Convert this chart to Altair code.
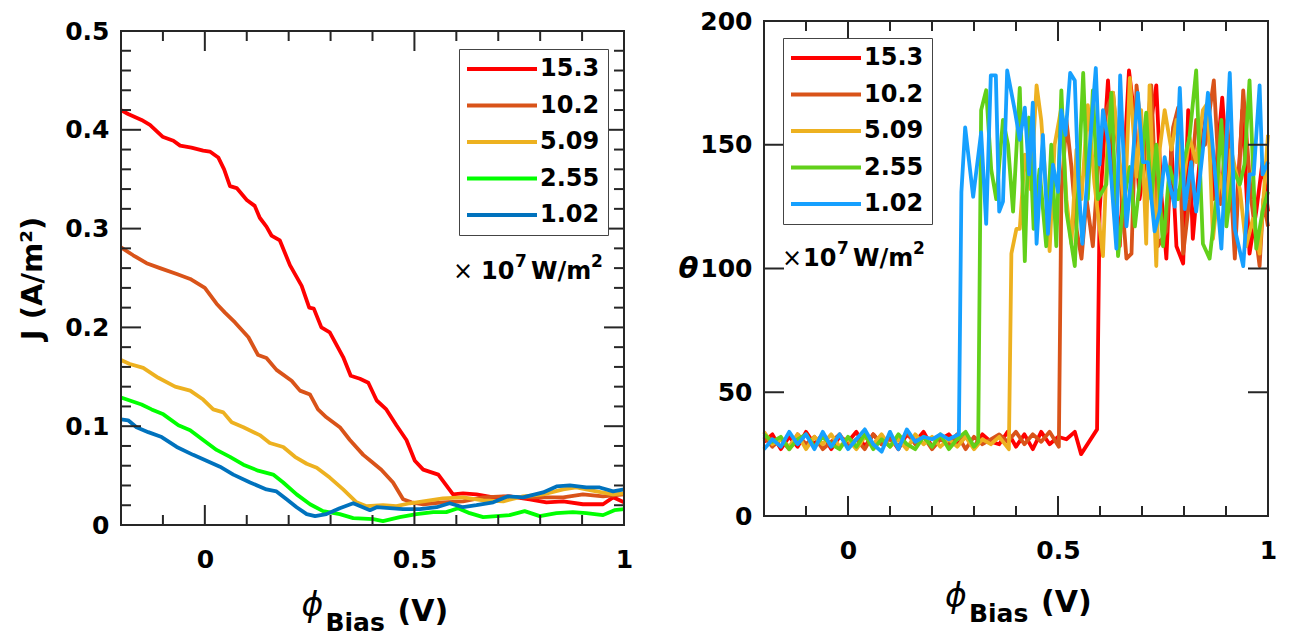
import altair as alt
import pandas as pd

# ---------------- data ----------------
SERIES = ["15.3", "10.2", "5.09", "2.55", "1.02"]
LEFT_COLORS = ["#FF0000", "#D95319", "#EDB120", "#00FF00", "#0072BD"]
RIGHT_COLORS = ["#FF0000", "#D95319", "#EDB120", "#62D01A", "#16A0FF"]

# J (A/m^2) vs phi_bias (V)
J_153 = [(-0.2, 0.420), (-0.183, 0.416), (-0.151, 0.410), (-0.131, 0.405), (-0.101, 0.393),
         (-0.075, 0.389), (-0.059, 0.384), (-0.032, 0.382), (-0.004, 0.379), (0.012, 0.378),
         (0.032, 0.372), (0.046, 0.360), (0.060, 0.343), (0.076, 0.341), (0.100, 0.329),
         (0.119, 0.323), (0.131, 0.311), (0.147, 0.302), (0.159, 0.293), (0.179, 0.288),
         (0.203, 0.263), (0.231, 0.242), (0.249, 0.220), (0.260, 0.219), (0.278, 0.200),
         (0.298, 0.195), (0.330, 0.170), (0.348, 0.151), (0.370, 0.148), (0.390, 0.144),
         (0.410, 0.126), (0.433, 0.117), (0.457, 0.101), (0.481, 0.086), (0.501, 0.065),
         (0.521, 0.056), (0.557, 0.051), (0.592, 0.031), (0.616, 0.032), (0.648, 0.031),
         (0.688, 0.028), (0.727, 0.029), (0.775, 0.026), (0.815, 0.023), (0.855, 0.024),
         (0.902, 0.021), (0.950, 0.021), (0.974, 0.028), (1.0, 0.023)]
J_102 = [(-0.2, 0.281), (-0.171, 0.273), (-0.139, 0.265), (-0.107, 0.260), (-0.067, 0.254),
         (-0.035, 0.249), (0.000, 0.240), (0.028, 0.224), (0.048, 0.215), (0.072, 0.205),
         (0.104, 0.190), (0.127, 0.172), (0.147, 0.169), (0.171, 0.157), (0.207, 0.146),
         (0.227, 0.136), (0.251, 0.132), (0.270, 0.117), (0.290, 0.109), (0.322, 0.099),
         (0.346, 0.086), (0.378, 0.071), (0.398, 0.064), (0.421, 0.056), (0.449, 0.043),
         (0.473, 0.026), (0.493, 0.023), (0.521, 0.021), (0.568, 0.023), (0.616, 0.024),
         (0.664, 0.028), (0.712, 0.029), (0.759, 0.028), (0.807, 0.028), (0.855, 0.028),
         (0.902, 0.031), (0.950, 0.029), (1.0, 0.031)]
J_509 = [(-0.2, 0.167), (-0.179, 0.163), (-0.147, 0.159), (-0.111, 0.149), (-0.071, 0.140),
         (-0.035, 0.136), (-0.004, 0.127), (0.020, 0.117), (0.044, 0.114), (0.064, 0.104),
         (0.092, 0.099), (0.131, 0.091), (0.155, 0.083), (0.187, 0.079), (0.215, 0.069),
         (0.243, 0.062), (0.267, 0.058), (0.298, 0.048), (0.330, 0.036), (0.362, 0.023),
         (0.386, 0.019), (0.425, 0.020), (0.457, 0.019), (0.489, 0.022), (0.521, 0.024),
         (0.568, 0.027), (0.616, 0.028), (0.664, 0.025), (0.712, 0.024), (0.759, 0.029),
         (0.807, 0.031), (0.855, 0.036), (0.886, 0.038), (0.934, 0.034), (0.974, 0.031),
         (1.0, 0.032)]
J_255 = [(-0.2, 0.129), (-0.179, 0.126), (-0.151, 0.122), (-0.127, 0.117), (-0.099, 0.112),
         (-0.063, 0.101), (-0.035, 0.096), (-0.004, 0.086), (0.028, 0.076), (0.060, 0.069),
         (0.092, 0.061), (0.127, 0.055), (0.163, 0.051), (0.187, 0.043), (0.219, 0.031),
         (0.251, 0.021), (0.282, 0.014), (0.322, 0.011), (0.354, 0.007), (0.402, 0.006),
         (0.425, 0.004), (0.465, 0.008), (0.505, 0.011), (0.545, 0.013), (0.576, 0.013),
         (0.604, 0.017), (0.632, 0.012), (0.664, 0.008), (0.696, 0.009), (0.727, 0.010),
         (0.763, 0.014), (0.799, 0.009), (0.839, 0.012), (0.878, 0.013), (0.910, 0.012),
         (0.950, 0.010), (0.977, 0.015), (1.0, 0.016)]
J_102b = [(-0.2, 0.107), (-0.183, 0.106), (-0.163, 0.099), (-0.135, 0.094), (-0.103, 0.089),
          (-0.067, 0.079), (-0.028, 0.071), (0.004, 0.065), (0.036, 0.059), (0.068, 0.051),
          (0.108, 0.043), (0.147, 0.036), (0.171, 0.034), (0.195, 0.026), (0.219, 0.018),
          (0.243, 0.011), (0.263, 0.009), (0.290, 0.011), (0.322, 0.017), (0.354, 0.022),
          (0.394, 0.015), (0.410, 0.018), (0.441, 0.017), (0.473, 0.016), (0.513, 0.016),
          (0.553, 0.018), (0.584, 0.022), (0.616, 0.018), (0.648, 0.020), (0.688, 0.023),
          (0.723, 0.029), (0.759, 0.028), (0.807, 0.033), (0.839, 0.039), (0.871, 0.040),
          (0.910, 0.038), (0.942, 0.038), (0.974, 0.034), (1.0, 0.036)]

# theta vs phi_bias (V)
TH_153 = [(-0.20, 30), (-0.18, 33), (-0.16, 27), (-0.14, 32), (-0.12, 28), (-0.10, 34), (-0.08, 29),
          (-0.06, 33), (-0.04, 27), (-0.02, 32), (0.00, 30), (0.02, 34), (0.04, 28), (0.06, 33),
          (0.08, 29), (0.10, 32), (0.12, 27), (0.14, 33), (0.16, 30), (0.18, 34), (0.20, 28),
          (0.22, 31), (0.24, 33), (0.26, 29), (0.28, 32), (0.30, 28), (0.32, 33), (0.34, 30),
          (0.36, 29), (0.38, 34), (0.40, 28), (0.42, 33), (0.44, 27), (0.46, 34), (0.48, 29),
          (0.50, 32), (0.52, 31), (0.54, 34), (0.555, 25), (0.593, 35),
          (0.599, 123), (0.619, 176), (0.632, 140), (0.647, 109), (0.669, 180), (0.683, 160),
          (0.694, 128), (0.714, 150), (0.734, 174), (0.746, 130), (0.758, 104), (0.770, 150),
          (0.782, 109), (0.798, 102), (0.810, 164), (0.821, 112), (0.838, 145), (0.855, 165),
          (0.870, 128), (0.891, 169), (0.907, 130), (0.923, 117), (0.939, 164), (0.956, 106),
          (0.972, 123), (0.987, 143), (1.0, 123)]
TH_102 = [(-0.20, 32), (-0.18, 28), (-0.16, 31), (-0.14, 27), (-0.12, 33), (-0.10, 29), (-0.08, 32),
          (-0.06, 27), (-0.04, 30), (-0.02, 33), (0.00, 28), (0.02, 31), (0.04, 27), (0.06, 33),
          (0.08, 29), (0.10, 31), (0.12, 28), (0.14, 34), (0.16, 29), (0.18, 32), (0.20, 27),
          (0.22, 31), (0.24, 29), (0.26, 33), (0.28, 27), (0.30, 32), (0.32, 29), (0.34, 31),
          (0.36, 33), (0.38, 30), (0.40, 34), (0.42, 29), (0.44, 33), (0.46, 30), (0.48, 34),
          (0.502, 28),
          (0.508, 130), (0.520, 160), (0.532, 141), (0.544, 116), (0.556, 104), (0.568, 128),
          (0.583, 109), (0.599, 150), (0.615, 164), (0.631, 171), (0.647, 140), (0.663, 104),
          (0.675, 106), (0.687, 174), (0.706, 143), (0.722, 174), (0.738, 109), (0.758, 115),
          (0.774, 157), (0.786, 165), (0.798, 106), (0.813, 128), (0.829, 160), (0.850, 150),
          (0.871, 176), (0.887, 126), (0.903, 160), (0.921, 104), (0.941, 172), (0.960, 128),
          (0.980, 101), (0.989, 128), (1.0, 117)]
TH_509 = [(-0.20, 34), (-0.18, 29), (-0.16, 31), (-0.14, 28), (-0.12, 33), (-0.10, 27), (-0.08, 32),
          (-0.06, 29), (-0.04, 33), (-0.02, 28), (0.00, 31), (0.02, 27), (0.04, 32), (0.06, 29),
          (0.08, 33), (0.10, 28), (0.12, 31), (0.14, 27), (0.16, 33), (0.18, 29), (0.20, 32),
          (0.22, 28), (0.24, 31), (0.26, 28), (0.28, 32), (0.30, 27), (0.32, 31), (0.34, 29),
          (0.36, 32), (0.383, 27),
          (0.389, 106), (0.401, 116), (0.409, 116), (0.421, 146), (0.435, 132), (0.449, 174),
          (0.460, 160), (0.472, 132), (0.480, 107), (0.492, 150), (0.508, 165), (0.520, 128),
          (0.532, 110), (0.544, 148), (0.556, 128), (0.571, 166), (0.587, 134), (0.607, 105),
          (0.619, 157), (0.631, 171), (0.647, 143), (0.659, 123), (0.671, 177), (0.687, 137),
          (0.698, 164), (0.710, 110), (0.718, 174), (0.734, 101), (0.742, 148), (0.754, 164),
          (0.770, 148), (0.782, 160), (0.798, 134), (0.813, 153), (0.829, 143), (0.845, 164),
          (0.857, 167), (0.869, 112), (0.885, 138), (0.901, 123), (0.912, 148), (0.933, 132),
          (0.948, 109), (0.964, 120), (0.980, 106), (1.0, 154)]
TH_255 = [(-0.20, 33), (-0.18, 30), (-0.16, 32), (-0.14, 27), (-0.12, 31), (-0.10, 33), (-0.08, 28),
          (-0.06, 32), (-0.04, 29), (-0.02, 27), (0.00, 32), (0.02, 28), (0.04, 33), (0.06, 27),
          (0.08, 31), (0.10, 28), (0.12, 33), (0.14, 29), (0.16, 27), (0.18, 32), (0.20, 28),
          (0.22, 33), (0.24, 27), (0.26, 31), (0.28, 34), (0.30, 28), (0.310, 30),
          (0.317, 164), (0.329, 172), (0.341, 140), (0.353, 128), (0.369, 160), (0.381, 150),
          (0.393, 123), (0.409, 173), (0.421, 103), (0.431, 161), (0.442, 116), (0.456, 140),
          (0.472, 109), (0.484, 150), (0.496, 109), (0.508, 172), (0.520, 123), (0.540, 101),
          (0.560, 179), (0.571, 128), (0.583, 172), (0.595, 128), (0.615, 134), (0.627, 171),
          (0.643, 105), (0.655, 126), (0.671, 141), (0.683, 117), (0.694, 134), (0.710, 163),
          (0.722, 128), (0.734, 150), (0.750, 109), (0.766, 141), (0.786, 128), (0.798, 142),
          (0.813, 153), (0.829, 180), (0.845, 110), (0.861, 104), (0.877, 128), (0.889, 160),
          (0.901, 117), (0.917, 140), (0.933, 134), (0.944, 142), (0.956, 176), (0.972, 108),
          (0.987, 123), (1.0, 131)]
TH_102b = [(-0.20, 27), (-0.18, 31), (-0.16, 28), (-0.14, 34), (-0.12, 29), (-0.10, 33), (-0.08, 27),
           (-0.06, 34), (-0.04, 28), (-0.02, 33), (0.00, 27), (0.02, 31), (0.04, 35), (0.06, 29),
           (0.08, 26), (0.10, 34), (0.12, 27), (0.14, 35), (0.16, 30), (0.18, 32), (0.20, 31),
           (0.22, 33), (0.24, 31), (0.264, 33),
           (0.270, 131), (0.279, 157), (0.298, 129), (0.317, 155), (0.329, 118), (0.340, 178),
           (0.352, 178), (0.360, 123), (0.369, 127), (0.379, 180), (0.397, 164), (0.409, 152),
           (0.421, 165), (0.431, 138), (0.440, 167), (0.449, 110), (0.464, 154), (0.476, 114),
           (0.488, 142), (0.500, 131), (0.508, 164), (0.518, 154), (0.529, 179), (0.540, 176),
           (0.548, 137), (0.558, 110), (0.571, 139), (0.590, 181), (0.599, 142), (0.607, 164),
           (0.621, 150), (0.639, 108), (0.648, 178), (0.663, 117), (0.676, 140), (0.690, 171),
           (0.702, 143), (0.714, 143), (0.730, 115), (0.742, 123), (0.754, 145), (0.766, 134),
           (0.778, 125), (0.790, 173), (0.802, 124), (0.817, 143), (0.829, 123), (0.845, 148),
           (0.857, 171), (0.869, 148), (0.889, 108), (0.909, 179), (0.921, 116), (0.941, 101),
           (0.956, 138), (0.966, 138), (0.980, 174), (0.987, 138), (1.0, 143)]

X_LABELS = [0, 0.5, 1]
X_TICKS_MINOR = [-0.1, 0.1, 0.2, 0.3, 0.4, 0.6, 0.7, 0.8, 0.9]
X_TICKS_MAJOR = [0, 0.5]
J_LABELS = [0, 0.1, 0.2, 0.3, 0.4, 0.5]
J_TICKS_MINOR = [0.02, 0.04, 0.06, 0.08, 0.12, 0.14, 0.16, 0.18, 0.22, 0.24, 0.26, 0.28,
                 0.32, 0.34, 0.36, 0.38, 0.42, 0.44, 0.46, 0.48]
J_TICKS_MAJOR = [0.1, 0.2, 0.3, 0.4]
TH_LABELS = [0, 50, 100, 150, 200]
TH_TICKS_MAJOR = [50, 100, 150]
UNIT_NOTE = ["×", "10", "7", "W/m", "2"]

# ---------------- style ----------------
FONT = "DejaVu Sans"
INK = "#262626"
W_L, H_L, TOP_L = 503, 494, 10
W_R, H_R, TOP_R = 504, 495, 0
MAJOR_LEN, MINOR_LEN = 20, 10


def long_frame(series_pts):
    rows = []
    for k, (name, pts) in enumerate(zip(SERIES, series_pts)):
        for x, y in pts:
            rows.append({"series": name, "k": k, "x": x, "y": y})
    return pd.DataFrame(rows)


def text_layer(txt, x, y, size, weight="bold", style="normal", font=FONT, align="left"):
    return alt.Chart(pd.DataFrame({"t": [txt]})).mark_text(
        font=font, fontSize=size, fontWeight=weight, fontStyle=style, align=align,
        baseline="alphabetic", color="black"
    ).encode(text="t:N", x=alt.value(x), y=alt.value(y))


def unit_note(x0, gap, y0):
    x10 = x0 + gap
    return [
        text_layer(UNIT_NOTE[0], x0, y0, 24, weight="normal"),
        text_layer(UNIT_NOTE[1], x10, y0, 24),
        text_layer(UNIT_NOTE[2], x10 + 34, y0 - 12, 17),
        text_layer(UNIT_NOTE[3], x10 + 50, y0, 24),
        text_layer(UNIT_NOTE[4], x10 + 110, y0 - 12, 17),
    ]


def panel(df, colors, ydom, ylabels, yfmt, xminor, xmajor, yminor, ymajor, width, height, top,
          ytitle, ytitle_kw, legend_x, legend_y, note):
    total_h = height + top
    xs = alt.Scale(domain=[-0.2, 1.0], nice=False, zero=False)
    ys = alt.Scale(domain=ydom, nice=False, zero=False, range=[total_h, top])
    cs = alt.Scale(domain=SERIES, range=colors)
    xaxis = alt.Axis(values=X_LABELS, format="~g", title=None, labelFlush=False)
    yaxis = alt.Axis(values=ylabels, format=yfmt, title=ytitle, **ytitle_kw)
    legend = alt.Legend(
        title=None, orient="none", legendX=legend_x, legendY=legend_y, padding=8,
        fillColor="white", strokeColor="#444444", cornerRadius=0,
        symbolType="M-3.5,0L3.5,0", symbolSize=400, symbolStrokeWidth=4,
        symbolOffset=23, labelOffset=26, rowPadding=12.5,
        labelFont=FONT, labelFontSize=24, labelFontWeight="bold", labelColor="black",
    )
    layers = []
    for name in SERIES:
        layers.append(
            alt.Chart(df).transform_filter(alt.datum.series == name)
            .mark_line(strokeWidth=3.8, strokeJoin="round")
            .encode(
                x=alt.X("x:Q", scale=xs, axis=xaxis),
                y=alt.Y("y:Q", scale=ys, axis=yaxis),
                color=alt.Color("series:N", scale=cs, legend=legend),
            )
        )

    def xt(vals, length):
        base = alt.Chart(pd.DataFrame({"v": vals})).mark_rule(color=INK, strokeWidth=2)
        enc = alt.X("v:Q", scale=xs, axis=xaxis)
        return [base.encode(x=enc, y=alt.value(total_h), y2=alt.value(total_h - length)),
                base.encode(x=enc, y=alt.value(top), y2=alt.value(top + length))]

    def yt(vals, length):
        base = alt.Chart(pd.DataFrame({"v": vals})).mark_rule(color=INK, strokeWidth=2)
        enc = alt.Y("v:Q", scale=ys, axis=yaxis)
        return [base.encode(y=enc, x=alt.value(0), x2=alt.value(length)),
                base.encode(y=enc, x=alt.value(width), x2=alt.value(width - length))]

    layers += xt(xminor, MINOR_LEN) + xt(xmajor, MAJOR_LEN)
    if yminor:
        layers += yt(yminor, MINOR_LEN)
    layers += yt(ymajor, MAJOR_LEN)

    # axes box
    layers.append(
        alt.Chart(pd.DataFrame({"t": [0]})).mark_rect(filled=False, stroke=INK, strokeWidth=2)
        .encode(x=alt.value(0), x2=alt.value(width), y=alt.value(top), y2=alt.value(total_h))
    )

    layers += unit_note(*note)

    # x title: phi_Bias (V)
    cx = width / 2
    layers.append(text_layer("ϕ", cx - 71, total_h + 91, 33, weight="normal", style="italic"))
    layers.append(text_layer("Bias", cx - 47, total_h + 106, 25))
    layers.append(text_layer("(V)", cx + 25, total_h + 96, 30))

    return alt.layer(*layers).properties(
        width=width, height=total_h,
        view=alt.ViewBackground(stroke="transparent"),
    )


left = panel(
    long_frame([J_153, J_102, J_509, J_255, J_102b]), LEFT_COLORS, [0, 0.5], J_LABELS, "~g",
    X_TICKS_MINOR, X_TICKS_MAJOR, J_TICKS_MINOR, J_TICKS_MAJOR, W_L, H_L, TOP_L,
    "J (A/m²)",
    dict(titleFont=FONT, titleFontSize=29, titleFontWeight="bold", titleColor="black",
         titleAngle=270, titleX=-89, titleY=TOP_L + H_L / 2, titleAlign="center",
         titleBaseline="middle"),
    338, 28, (332, 28, 258),
)

right = panel(
    long_frame([TH_153, TH_102, TH_509, TH_255, TH_102b]), RIGHT_COLORS, [0, 200], TH_LABELS, "d",
    X_TICKS_MINOR, X_TICKS_MAJOR, [], TH_TICKS_MAJOR, W_R, H_R, TOP_R,
    "θ",
    dict(titleFont=FONT, titleFontSize=29, titleFontWeight="bold", titleFontStyle="italic",
         titleColor="black", titleAngle=0, titleX=-76, titleY=H_R / 2,
         titleAlign="center", titleBaseline="middle"),
    19, 17, (18, 21, 245),
)

chart = alt.hconcat(left, right, spacing=43).resolve_scale(
    x="independent", y="independent", color="independent"
).properties(
    padding={"left": 9, "top": 0, "right": 0, "bottom": 0}
).configure_view(stroke="transparent").configure_axis(
    labelFont=FONT, labelFontSize=25, labelFontWeight="bold", labelColor="black",
    ticks=False, domain=False, grid=False, labelOverlap=False,
).configure_axisX(labelPadding=22).configure_axisY(labelPadding=12)

chart.save("out.html", embed_options={"renderer": "svg", "actions": False})
